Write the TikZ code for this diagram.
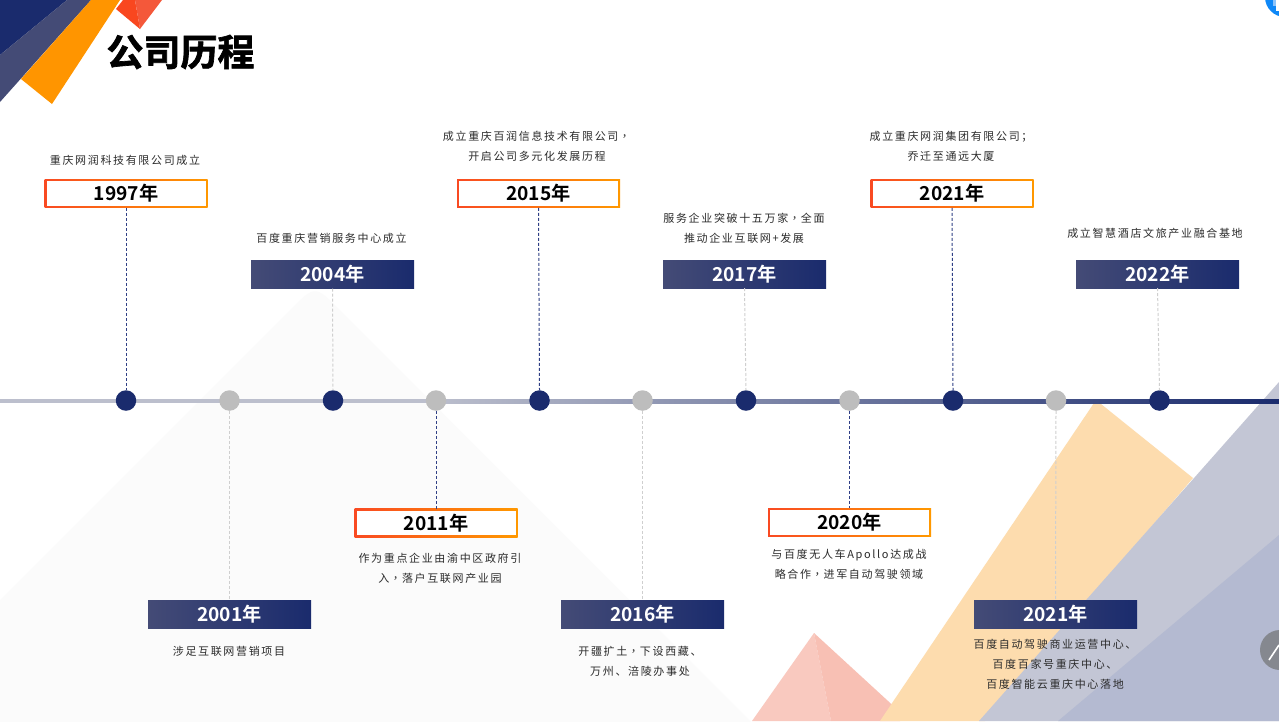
\documentclass[tikz,border=0pt]{standalone}
\usepackage{fontspec}
\setmainfont{Noto Sans CJK SC}
\newfontfamily\titlef[FakeBold=1.8]{Noto Sans CJK SC Bold}
\newfontfamily\yearf{Noto Sans CJK SC Bold}
\newfontfamily\descf[LetterSpace=15]{Noto Sans CJK SC}
\newfontfamily\commaf{Noto Sans CJK TC}
\newcommand\cmm{\makebox[12.6pt][c]{\commaf ，}}
\definecolor{navy}{HTML}{1A2B6D}
\definecolor{slate}{HTML}{444B76}
\definecolor{flame}{HTML}{F94A22}
\definecolor{amber}{HTML}{FF9800}
\definecolor{dotgrey}{HTML}{BDBDBD}
\definecolor{dashgrey}{HTML}{CFCFCF}
\definecolor{dashnavy}{HTML}{2F3F85}
\definecolor{desc}{HTML}{2B2B2B}
\tikzset{
  x=1pt,y=-1pt,
  boxbase/.style={rectangle,inner sep=0pt,outer sep=0pt,line width=0pt,minimum width=163pt,minimum height=28pt},
  outerbox/.style={boxbase,left color=flame,right color=amber,minimum height=28.5pt},
  innerbox/.style={rectangle,inner sep=0pt,outer sep=0pt,fill=white,minimum width=159pt,minimum height=24.5pt,text=black,font=\yearf\fontsize{19.2}{22}\selectfont},
  darkbox/.style={boxbase,left color=slate,right color=navy,text=white,font=\yearf\fontsize{19.2}{22}\selectfont},
  dotnavy/.style={circle,fill=navy,inner sep=0pt,outer sep=0pt,minimum size=20.5pt},
  dotpale/.style={circle,fill=dotgrey,inner sep=0pt,outer sep=0pt,minimum size=20.5pt},
  linknavy/.style={draw=dashnavy,line width=1pt,dash pattern=on 3pt off 2pt},
  linkgrey/.style={draw=dashgrey,line width=1pt,dash pattern=on 3pt off 2pt},
  desctext/.style={inner sep=0pt,align=center,text=desc,font=\descf\fontsize{11}{20}\selectfont},
}
\begin{document}
\begin{tikzpicture}
\useasboundingbox (0,0) rectangle (1279,721);
\fill[white] (0,0) rectangle (1279,721);
\begin{scope}
\clip (0,0) rectangle (1279,721);
% background shapes
\fill[fill={rgb,255:red,251;green,251;blue,251}] (-2,602) -- (290,310) .. controls (315,285) .. (340,310) -- (752,723) -- (-2,723) -- cycle;
\fill[fill={rgb,255:red,249;green,201;blue,191}] (814,633) -- (752,721) -- (831,721) -- cycle;
\fill[fill={rgb,255:red,248;green,192;blue,180}] (814,633) -- (831,721) -- (900,721) -- (900,712) -- cycle;
\fill[fill={rgb,255:red,253;green,220;blue,174}] (1096,400) -- (1193,478) -- (985,721) -- (880,721) -- cycle;
\fill[fill={rgb,255:red,195;green,198;blue,213}] (1279,382) -- (979,721) -- (1279,721) -- cycle;
\fill[fill={rgb,255:red,180;green,186;blue,209}] (1279,535) -- (1058,721) -- (1279,721) -- cycle;
% top-left shapes
\fill[navy] (0,0) -- (67,0) -- (0,55) -- cycle;
\fill[slate] (67,0) -- (91,0) -- (0,102) -- (0,55) -- cycle;
\fill[fill={rgb,255:red,255;green,149;blue,0}] (91,0) -- (120,0) -- (52,104) -- (21,79) -- cycle;
\fill[fill={rgb,255:red,249;green,71;blue,31}] (123,0) -- (116,9) -- (140,29) -- (135,0) -- cycle;
\fill[fill={rgb,255:red,244;green,88;blue,58}] (135,0) -- (140,29) -- (162,0) -- cycle;
% widgets at the window edge
\fill[fill={rgb,255:red,15;green,136;blue,247}] (1285,-3) circle (20);
\fill[fill={rgb,255:red,140;green,195;blue,250}] (1273,0) rectangle (1276,6);
\fill[white] (1276,0) rectangle (1279,11);
\fill[fill={rgb,255:red,133;green,136;blue,143}] (1280,650) circle (20);
\draw[white,line width=1.6pt] (1269,660) -- (1279,645);
% axis
\fill[fill={rgb,255:red,188;green,191;blue,205}] (0,399) rectangle (430,403);
\shade[left color={rgb,255:red,188;green,191;blue,205},right color=navy] (430,399) rectangle (1279,403);
\end{scope}
% title
\node[inner sep=0pt,text=black,font=\titlef\fontsize{37}{40}\selectfont] (title) at (180.5,52) {公司历程};
% dots
\node[dotnavy] (d1) at (126,400.5) {};
\node[dotpale] (d2) at (229.5,400.5) {};
\node[dotnavy] (d3) at (333,400.5) {};
\node[dotpale] (d4) at (436,400.5) {};
\node[dotnavy] (d5) at (539.5,400.5) {};
\node[dotpale] (d6) at (642.5,400.5) {};
\node[dotnavy] (d7) at (746,400.5) {};
\node[dotpale] (d8) at (849.5,400.5) {};
\node[dotnavy] (d9) at (953,400.5) {};
\node[dotpale] (d10) at (1056,400.5) {};
\node[dotnavy] (d11) at (1159.5,400.5) {};
% year boxes
\node[outerbox] (b1) at (126,193.5) {};
\node[innerbox] (b1t) at (b1) {1997年};
\node[darkbox] (b3) at (332.5,274.5) {2004年};
\node[outerbox] (b5) at (538.5,193.5) {};
\node[innerbox] (b5t) at (b5) {2015年};
\node[darkbox] (b7) at (744.5,274) {2017年};
\node[outerbox] (b9) at (952,193.5) {};
\node[innerbox] (b9t) at (b9) {2021年};
\node[darkbox] (b11) at (1157.5,274) {2022年};
\node[darkbox] (b2) at (229.5,614) {2001年};
\node[outerbox] (b4) at (436,523) {};
\node[innerbox] (b4t) at (b4) {2011年};
\node[darkbox] (b6) at (642.5,614) {2016年};
\node[outerbox] (b8) at (849.5,522.5) {};
\node[innerbox] (b8t) at (b8) {2020年};
\node[darkbox] (b10) at (1055.5,614) {2021年};
% connectors
\draw[linknavy] (b1.south) -- (d1.north);
\draw[linkgrey] (b3.south) -- (d3.north);
\draw[linknavy] (b5.south) -- (d5.north);
\draw[linkgrey] (b7.south) -- (d7.north);
\draw[linknavy] (b9.south) -- (d9.north);
\draw[linkgrey] (b11.south) -- (d11.north);
\draw[linkgrey] (d2.south) -- (b2.north);
\draw[linknavy] (d4.south) -- (b4.north);
\draw[linkgrey] (d6.south) -- (b6.north);
\draw[linknavy] (d8.south) -- (b8.north);
\draw[linkgrey] (d10.south) -- (b10.north);
% descriptions
\node[desctext] (t1) at (125,160.5) {重庆网润科技有限公司成立};
\node[desctext] (t3) at (331.5,238.5) {百度重庆营销服务中心成立};
\node[desctext] (t5) at (537,146) {成立重庆百润信息技术有限公司\cmm\\开启公司多元化发展历程};
\node[desctext] (t7) at (744,228.5) {服务企业突破十五万家\cmm 全面\\推动企业互联网+发展};
\node[desctext] (t9) at (951,146.5) {成立重庆网润集团有限公司；\\乔迁至通远大厦};
\node[desctext] (t11) at (1155,233.5) {成立智慧酒店文旅产业融合基地};
\node[desctext] (t2) at (229,651.5) {涉足互联网营销项目};
\node[desctext] (t4) at (440,568.5) {作为重点企业由渝中区政府引\\入\cmm 落户互联网产业园};
\node[desctext] (t6) at (640,661.5) {开疆扩土\cmm 下设西藏、\\万州、涪陵办事处};
\node[desctext] (t8) at (849,564.5) {与百度无人车Apollo达成战\\略合作\cmm 进军自动驾驶领域};
\node[desctext] (t10) at (1055,664.5) {百度自动驾驶商业运营中心、\\百度百家号重庆中心、\\百度智能云重庆中心落地};
\end{tikzpicture}
\end{document}
